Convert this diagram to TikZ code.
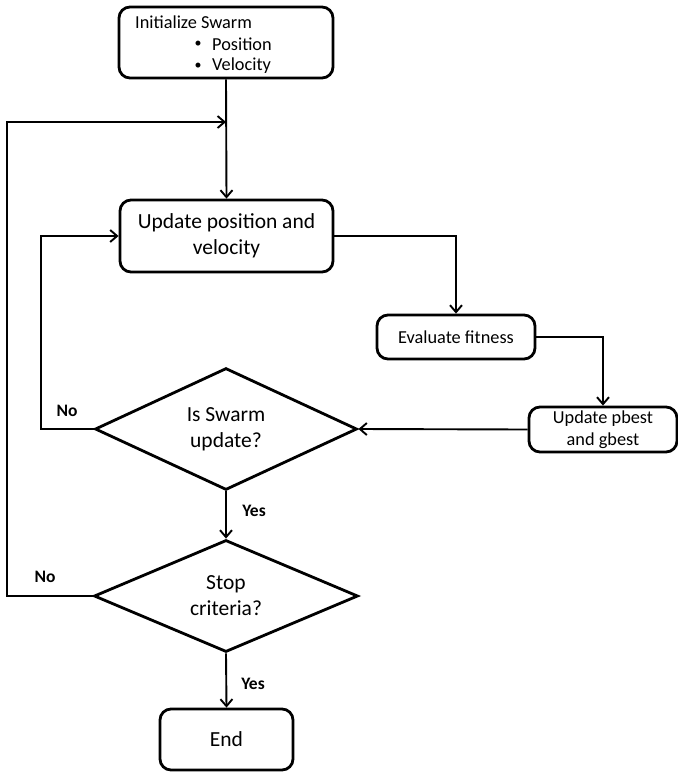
\documentclass[tikz,border=0pt]{standalone}
\usepackage{fontspec}
\setmainfont{Carlito}
\usetikzlibrary{arrows.meta,shapes.geometric}
\begin{document}
\begin{tikzpicture}[x=1pt,y=-1pt,
  box/.style={draw,line width=2.8pt,rounded corners=11pt,inner sep=0pt,align=center},
  dia/.style={draw,diamond,line width=2.8pt,inner sep=0pt,align=center,
    font=\fontsize{21.5}{26}\selectfont},
  big/.style={font=\fontsize{21.5}{26}\selectfont},
  mid/.style={font=\fontsize{18.3}{22}\selectfont},
  lbl/.style={font=\bfseries\fontsize{17.5}{20}\selectfont,inner sep=0pt},
  arr/.style={line width=1.9pt,-{Straight Barb[length=7pt,width=12pt,line width=1.9pt]}},
  ln/.style={line width=1.9pt}]
\useasboundingbox (0,0) rectangle (678,772);
% init box
\node[box,minimum width=214pt,minimum height=71pt] (init) at (226,42.5) {};
\node[mid,anchor=west,inner sep=0pt] (t1) at (135,22) {Initialize Swarm};
\node[mid,inner sep=0pt,font=\fontsize{14}{16}\selectfont] (b1) at (198,44) {•};
\node[mid,anchor=west,inner sep=0pt] (t2) at (212,44) {Position};
\node[mid,inner sep=0pt,font=\fontsize{14}{16}\selectfont] (b2) at (198,66) {•};
\node[mid,anchor=west,inner sep=0pt] (t3) at (212,66) {Velocity};
% update
\node[box,big,minimum width=213pt,minimum height=72pt] (upd) at (226.5,236) {Update position and\\velocity};
% evaluate
\node[box,mid,minimum width=158pt,minimum height=44pt] (eval) at (456,337) {Evaluate fitness};
% pbest
\node[box,mid,minimum width=148pt,minimum height=45pt] (pb) at (603,429.5) {Update pbest\\and gbest};
% diamonds
\node[dia,minimum width=262pt,minimum height=104pt] (d1) at (226,429) {Is Swarm\\update?};
\node[dia,minimum width=264pt,minimum height=106pt] (d2) at (226,596) {Stop\\criteria?};
% end
\node[box,big,minimum width=133pt,minimum height=61pt] (endn) at (226.5,739.5) {End};
% labels
\node[lbl] (no1) at (67,411) {No};
\node[lbl] (no2) at (45,577) {No};
\node[lbl] (yes1) at (254,511) {Yes};
\node[lbl] (yes2) at (253,684) {Yes};
% connectors
\coordinate (fb) at (226,122);
\draw[arr] (init.south) -- (upd.north);
\draw[arr] (upd.east) -| (eval.north);
\draw[arr] (eval.east) -| (pb.north);
\draw[arr] (pb.west) -- (d1.east);
\draw[arr] (d1.south) -- (d2.north);
\draw[arr] (d2.south) -- (endn.north);
\draw[arr] (d1.west) -- (41,429) |- (upd.west);
\draw[arr] (d2.west) -- (7,596) |- (fb);
\end{tikzpicture}
\end{document}
